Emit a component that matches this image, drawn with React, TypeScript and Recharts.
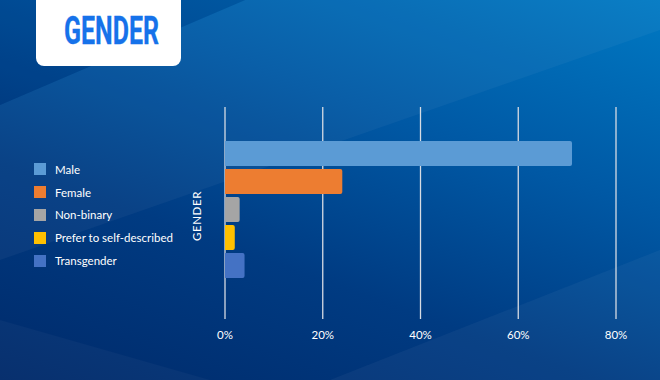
import { BarChart, Bar, XAxis, YAxis, CartesianGrid } from "recharts";

const categories = ["GENDER"];
const seriesNames = ["Male", "Female", "Non-binary", "Prefer to self-described", "Transgender"];
const seriesValues = [71, 24, 3, 2, 4];
const seriesColors = ["#5b9bd5", "#ed7d31", "#a5a5a5", "#ffc000", "#4472c4"];
const xTicks = [0, 20, 40, 60, 80];

const data = categories.map((c) => {
  const row: { [key: string]: any } = { name: c };
  seriesNames.forEach((s, i) => {
    row[s] = seriesValues[i];
  });
  return row;
});

const FONT = "Lato, 'Open Sans', sans-serif";

const CategoryTick = (props: any) => {
  const { x, y, payload } = props;
  return (
    <text
      x={0}
      y={0}
      transform={`translate(${x - 21},${y + 7}) rotate(-90)`}
      textAnchor="middle"
      dominantBaseline="central"
      fill="#ffffff"
      fontSize={11.5}
      letterSpacing={0.6}
      fontFamily={FONT}
    >
      {payload.value}
    </text>
  );
};

// legend drawn beside the chart, not inside recharts, so the plot keeps its place
const LegendBox = () => (
  <div
    style={{
      position: "absolute",
      left: 34,
      top: 158,
      fontFamily: FONT,
      fontSize: 11.5,
      color: "#fff",
    }}
  >
    {seriesNames.map((s, i) => (
      <div key={s} style={{ display: "flex", alignItems: "center", height: 22.8 }}>
        <span
          style={{
            display: "inline-block",
            width: 12,
            height: 12,
            background: seriesColors[i],
            marginRight: 9,
          }}
        />
        <span>{s}</span>
      </div>
    ))}
  </div>
);

export default function App() {
  return (
    <div
      style={{
        position: "relative",
        width: 660,
        height: 380,
        overflow: "hidden",
        background: "linear-gradient(20deg, #002a6a 0%, #003b82 35%, #0058a4 65%, #0079c3 100%)",
      }}
    >
      <style>{"body{margin:0}"}</style>
      <svg width={660} height={380} style={{ position: "absolute", left: 0, top: 0 }}>
        <polygon points="0,105 245,0 660,0 660,30 0,260" fill="#ffffff" opacity={0.04} />
        <polygon points="0,0 245,0 0,105" fill="#000a40" opacity={0.12} />
        <polygon points="660,250 660,380 330,380" fill="#ffffff" opacity={0.04} />
        <polygon points="0,320 0,380 210,380" fill="#ffffff" opacity={0.03} />
        <rect x={36} y={-12} width={145} height={78} rx={8} fill="#ffffff" />
        <text
          x={64}
          y={44}
          fontFamily="Roboto, sans-serif"
          fontWeight={700}
          fontSize={38}
          fill="#1672ea"
          stroke="#1672ea"
          strokeWidth={0.3}
          textLength={95}
          lengthAdjust="spacingAndGlyphs"
        >
          GENDER
        </text>
      </svg>
      <LegendBox />
      <div style={{ position: "absolute", left: 0, top: 0 }}>
        <BarChart
          width={660}
          height={380}
          data={data}
          layout="vertical"
          margin={{ top: 107, right: 44, bottom: 31, left: 185 }}
          barSize={25}
          barGap={3}
        >
          <CartesianGrid horizontal={false} stroke="#d6dbe3" strokeWidth={1.3} />
          <XAxis
            type="number"
            domain={[0, 80]}
            ticks={xTicks}
            tickFormatter={(v: number) => `${v}%`}
            axisLine={false}
            tickLine={false}
            height={30}
            tickMargin={6}
            tick={{ fill: "#ffffff", fontSize: 11.5, fontFamily: FONT }}
          />
          <YAxis
            type="category"
            dataKey="name"
            width={40}
            axisLine={false}
            tickLine={false}
            padding={{ top: 0, bottom: 8 }}
            tick={<CategoryTick />}
          />
          {seriesNames.map((s, i) => (
            <Bar
              key={s}
              dataKey={s}
              fill={seriesColors[i]}
              radius={[0, 2, 2, 0]}
              isAnimationActive={false}
            />
          ))}
        </BarChart>
      </div>
    </div>
  );
}
